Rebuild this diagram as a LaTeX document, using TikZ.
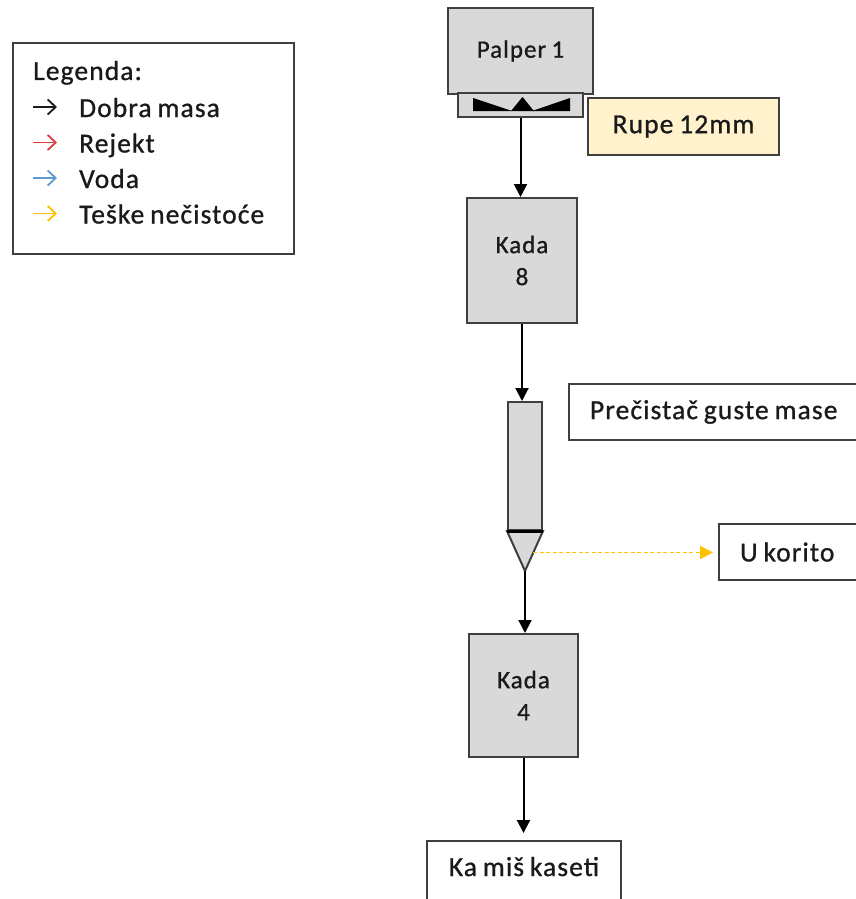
\documentclass[tikz,border=0pt]{standalone}
\usepackage{fontspec}
\setmainfont{Carlito}
\newfontfamily\diagfont[LetterSpace=4, WordSpace=0.8, FakeBold=0.9]{Carlito}
\usetikzlibrary{arrows.meta,calc}
\definecolor{boxline}{HTML}{3F3F3F}
\definecolor{unitfill}{HTML}{D9D9D9}
\definecolor{notefill}{HTML}{FFF2CC}
\definecolor{rejectred}{HTML}{E0393E}
\definecolor{waterblue}{HTML}{5B9BD5}
\definecolor{heavyyellow}{HTML}{FFC000}
\definecolor{inkc}{HTML}{1A1A1A}

\begin{document}
\begin{tikzpicture}[x=1pt,y=-1pt,
  outline/.style={draw=boxline, line width=2pt},
  unit/.style={outline, fill=unitfill, inner sep=0pt, text=inkc,
    font=\diagfont\fontsize{25}{32}\selectfont, align=center},
  tag/.style={outline, fill=white, inner sep=0pt, text=inkc,
    font=\diagfont\fontsize{27.5}{34}\selectfont},
  flow/.style={draw=black, line width=2pt, -{Triangle[width=13pt,length=13pt]}},
  heavy/.style={draw=heavyyellow, line width=1.7pt, dash pattern=on 4pt off 2.5pt,
    -{Triangle[width=13pt,length=13pt,fill=heavyyellow,sep=0pt]}},
  legtext/.style={anchor=base west, inner sep=0pt, text=inkc,
    font=\diagfont\fontsize{27.5}{34}\selectfont},
  legarrow/.style={line width=1.8pt, -{Straight Barb[length=8pt,width=15pt]}},
]
\useasboundingbox (0,0) rectangle (856,899);

% legend
\node[outline, fill=white, minimum width=281pt, minimum height=211pt] (legend) at (153.5,148.5) {};
\node[legtext] (legtitle) at (33,80) {Legenda:};
\node[legtext] (leggood) at (79,117) {Dobra masa};
\node[legtext] (legrej) at (79,152.5) {Rejekt};
\node[legtext] (legwater) at (79,188) {Voda};
\node[legtext] (legheavy) at (79,223.5) {Teške nečistoće};
\coordinate (ka) at (33,107);
\coordinate (kb) at (33,142.5);
\coordinate (kc) at (33,178);
\coordinate (kd) at (33,213.5);
\draw[legarrow, draw=inkc] (ka) -- ++(24,0);
\draw[legarrow, draw=rejectred] (kb) -- ++(24,0);
\draw[legarrow, draw=waterblue] (kc) -- ++(24,0);
\draw[legarrow, draw=heavyyellow] (kd) -- ++(24,0);

% pulper with its perforated screen plate
\node[unit, minimum width=145pt, minimum height=86pt] (palper) at (520.5,51) {Palper 1};
\node[unit, minimum width=125pt, minimum height=24pt] (screen) at (520.5,105) {};
\fill[black] (473,98) -- (473,111) -- (512,111) -- cycle;
\fill[black] (570,98) -- (570,111) -- (532,111) -- cycle;
\fill[black] (522.5,97) -- (511,111) -- (534,111) -- cycle;
\node[outline, fill=notefill, minimum width=191pt, minimum height=57pt, inner sep=0pt,
  text=inkc, font=\diagfont\fontsize{27.5}{34}\selectfont] (rupe) at (683.5,126.5) {Rupe 12mm};

% chest 8
\node[unit, minimum width=110pt, minimum height=125pt] (kada8) at (522,260.5) {Kada\\8};

% high-density cleaner: cylinder and cone
\node[unit, minimum width=34pt, minimum height=128pt] (cleaner) at (525,466) {};
\coordinate (apex) at (525,571);
\draw[outline, fill=unitfill, line join=miter] (cleaner.south west) -- (apex) -- (cleaner.south east) -- cycle;
\draw[black, line width=3pt] (cleaner.south west) -- (cleaner.south east);
\node[tag, anchor=west, minimum height=56pt, inner xsep=21pt]
  (precistac) at (568,412) {\makebox[270pt][l]{Prečistač guste mase}};
\node[tag, anchor=west, minimum height=56pt, inner xsep=21pt]
  (ukorito) at (718,552) {\makebox[150pt][l]{U korito}};
\coordinate (rejout) at ($(cleaner.south east)!0.537!(apex)$);

% chest 4 and outlet
\node[unit, minimum width=109pt, minimum height=123pt] (kada4) at (523.5,695.5) {Kada\\4};
\node[tag, anchor=north, minimum width=194pt, text height=35pt, text depth=45pt]
  (kamis) at (524,840) {Ka miš kaseti};

% flows
\draw[flow] (screen.south) -- (screen.south |- kada8.north);
\draw[flow] (kada8.south) -- (kada8.south |- cleaner.north);
\draw[flow] (apex) -- (apex |- kada4.north);
\draw[flow, shorten >=7pt] (kada4.south) -- (kada4.south |- kamis.north);
\draw[heavy, shorten >=5pt] (rejout) -- (rejout -| ukorito.west);
\end{tikzpicture}
\end{document}
